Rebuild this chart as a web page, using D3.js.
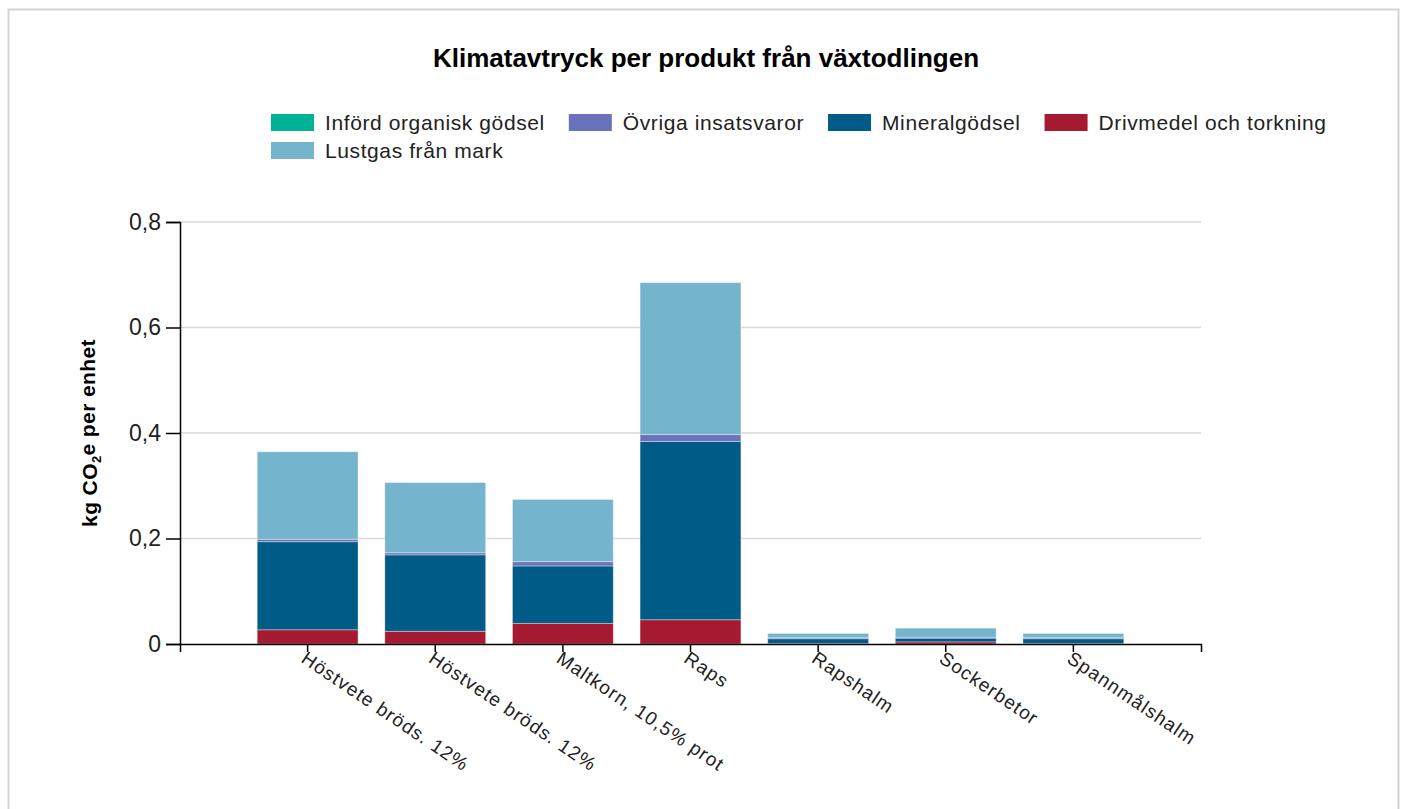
<!DOCTYPE html>
<html>
<head>
<meta charset="utf-8">
<script src="https://cdn.jsdelivr.net/npm/d3@7"></script>
<style>
  html, body { margin: 0; padding: 0; background: #fff; overflow: hidden; }
  svg { display: block; font-family: 'Liberation Sans', Arial, sans-serif; }
</style>
</head>
<body>
<svg id="chart"></svg>
<script>
const products = ['Höstvete bröds. 12%', 'Höstvete bröds.  12%', 'Maltkorn, 10,5% prot', 'Raps', 'Rapshalm', 'Sockerbetor', 'Spannmålshalm']
const labels = ['Höstvete bröds. 12%', 'Höstvete bröds. 12%', 'Maltkorn, 10,5% prot', 'Raps', 'Rapshalm', 'Sockerbetor', 'Spannmålshalm']

const drivmedel = [0.027, 0.024, 0.039, 0.046, 0.001, 0.004, 0.001]
const mineral = [0.167, 0.145, 0.109, 0.338, 0.009, 0.007, 0.009]
const ovriga = [0.0045, 0.004, 0.008, 0.013, 0.002, 0.002, 0.002]
const organisk = [0, 0, 0, 0, 0, 0, 0]
const lustgas = [0.166, 0.133, 0.118, 0.288, 0.008, 0.017, 0.008]

const yTicks = [0, 0.2, 0.4, 0.6, 0.8]

const series = [
  { key: 'Införd organisk gödsel', values: organisk, color: '#00b295' },
  { key: 'Övriga insatsvaror', values: ovriga, color: '#6a73b9' },
  { key: 'Mineralgödsel', values: mineral, color: '#005b86' },
  { key: 'Drivmedel och torkning', values: drivmedel, color: '#a51a31' },
  { key: 'Lustgas från mark', values: lustgas, color: '#74b4cd' }
]
// stacking order, bottom to top
const stackOrder = ['Drivmedel och torkning', 'Mineralgödsel', 'Övriga insatsvaror', 'Införd organisk gödsel', 'Lustgas från mark']

const width = 1407
const height = 809
const margin = { top: 222, right: 206, bottom: 165, left: 180 }
const innerWidth = width - margin.left - margin.right
const innerHeight = height - margin.top - margin.bottom

const svg = d3.select('#chart')
  .attr('width', width)
  .attr('height', height)

// frame
svg.append('rect')
  .attr('x', 8.5).attr('y', 9.5)
  .attr('width', 1390).attr('height', 820)
  .attr('fill', 'none')
  .attr('stroke', '#d4d4d4')
  .attr('stroke-width', 2)

svg.append('text')
  .attr('x', 706).attr('y', 67)
  .attr('text-anchor', 'middle')
  .attr('font-size', '26px')
  .attr('font-weight', 'bold')
  .attr('fill', '#000')
  .text('Klimatavtryck per produkt från växtodlingen')

const table = products.map((p, i) => {
  const row = { product: p }
  series.forEach(s => { row[s.key] = s.values[i] })
  return row
})

const stacked = d3.stack().keys(stackOrder)(table)
const colorOf = Object.fromEntries(series.map(s => [s.key, s.color]))

const xScale = d3.scaleBand()
  .domain(products)
  .range([0, innerWidth])
  .paddingInner(0.21)
  .paddingOuter(0.605)

const yScale = d3.scaleLinear()
  .domain([0, 0.8])
  .range([innerHeight, 0])

const g = svg.append('g')
  .attr('transform', `translate(${margin.left},${margin.top})`)

// gridlines
g.selectAll('.grid')
  .data(yTicks.filter(d => d > 0))
  .enter().append('line')
  .attr('class', 'grid')
  .attr('x1', 0).attr('x2', innerWidth)
  .attr('y1', d => yScale(d)).attr('y2', d => yScale(d))
  .attr('stroke', '#d9d9d9')
  .attr('stroke-width', 1.5)

// bars
g.selectAll('.layer')
  .data(stacked)
  .enter().append('g')
  .attr('class', 'layer')
  .attr('fill', d => colorOf[d.key])
  .selectAll('rect')
  .data(d => d)
  .enter().append('rect')
  .attr('x', d => xScale(d.data.product))
  .attr('y', d => yScale(d[1]))
  .attr('width', xScale.bandwidth())
  .attr('height', d => yScale(d[0]) - yScale(d[1]))
  .attr('stroke', '#ffffff')
  .attr('stroke-opacity', 0.35)
  .attr('stroke-width', 1)

// axes
const fmt = d => d === 0 ? '0' : d3.format('.1f')(d).replace('.', ',')

const yAxis = g.append('g')
  .call(d3.axisLeft(yScale).tickValues(yTicks).tickFormat(fmt).tickSize(14).tickPadding(5))
yAxis.selectAll('text')
  .attr('font-size', '23px')
  .attr('font-family', "'Liberation Sans', Arial, sans-serif")
  .attr('fill', '#222')
yAxis.selectAll('path, line').attr('stroke', '#000').attr('stroke-width', 1.5)

const xAxis = g.append('g')
  .attr('transform', `translate(0,${innerHeight})`)
  .call(d3.axisBottom(xScale).tickSize(8).tickFormat((d, i) => labels[i]))
xAxis.selectAll('path, line').attr('stroke', '#000').attr('stroke-width', 1.5)
xAxis.selectAll('text')
  .attr('font-size', '19px')
  .attr('letter-spacing', '1.1px')
  .attr('font-family', "'Liberation Sans', Arial, sans-serif")
  .attr('fill', '#222')
  .attr('text-anchor', 'start')
  .attr('dy', '0.35em')
  .attr('transform', 'translate(-4,12) rotate(34)')
  .attr('y', 0)
  .attr('x', 0)

// y axis title
svg.append('text')
  .attr('transform', `translate(97,${margin.top + innerHeight / 2}) rotate(-90)`)
  .attr('text-anchor', 'middle')
  .attr('font-size', '21px')
  .attr('letter-spacing', '0.4px')
  .attr('font-weight', 'bold')
  .attr('fill', '#000')
  .call(t => {
    t.append('tspan').text('kg CO')
    t.append('tspan').attr('font-size', '13px').attr('dy', '0.3em').text('2')
    t.append('tspan').attr('dy', '-0.3em').text('e per enhet')
  })

// legend, flowing left to right and wrapping
const legend = svg.append('g')
const legendLeft = 271
const legendRight = 1345
let lx = legendLeft
let ly = 114
series.forEach(s => {
  const item = legend.append('g')
  item.append('rect')
    .attr('width', 43).attr('height', 17)
    .attr('fill', s.color)
  const t = item.append('text')
    .attr('x', 54).attr('y', 8.5)
    .attr('dy', '0.35em')
    .attr('font-size', '21px')
    .attr('letter-spacing', '0.6px')
    .attr('fill', '#222')
    .text(s.key)
  const w = 54 + t.node().getComputedTextLength()
  if (lx + w > legendRight) {
    lx = legendLeft
    ly += 28
  }
  item.attr('transform', `translate(${lx},${ly})`)
  lx += w + 24
})
</script>
</body>
</html>
